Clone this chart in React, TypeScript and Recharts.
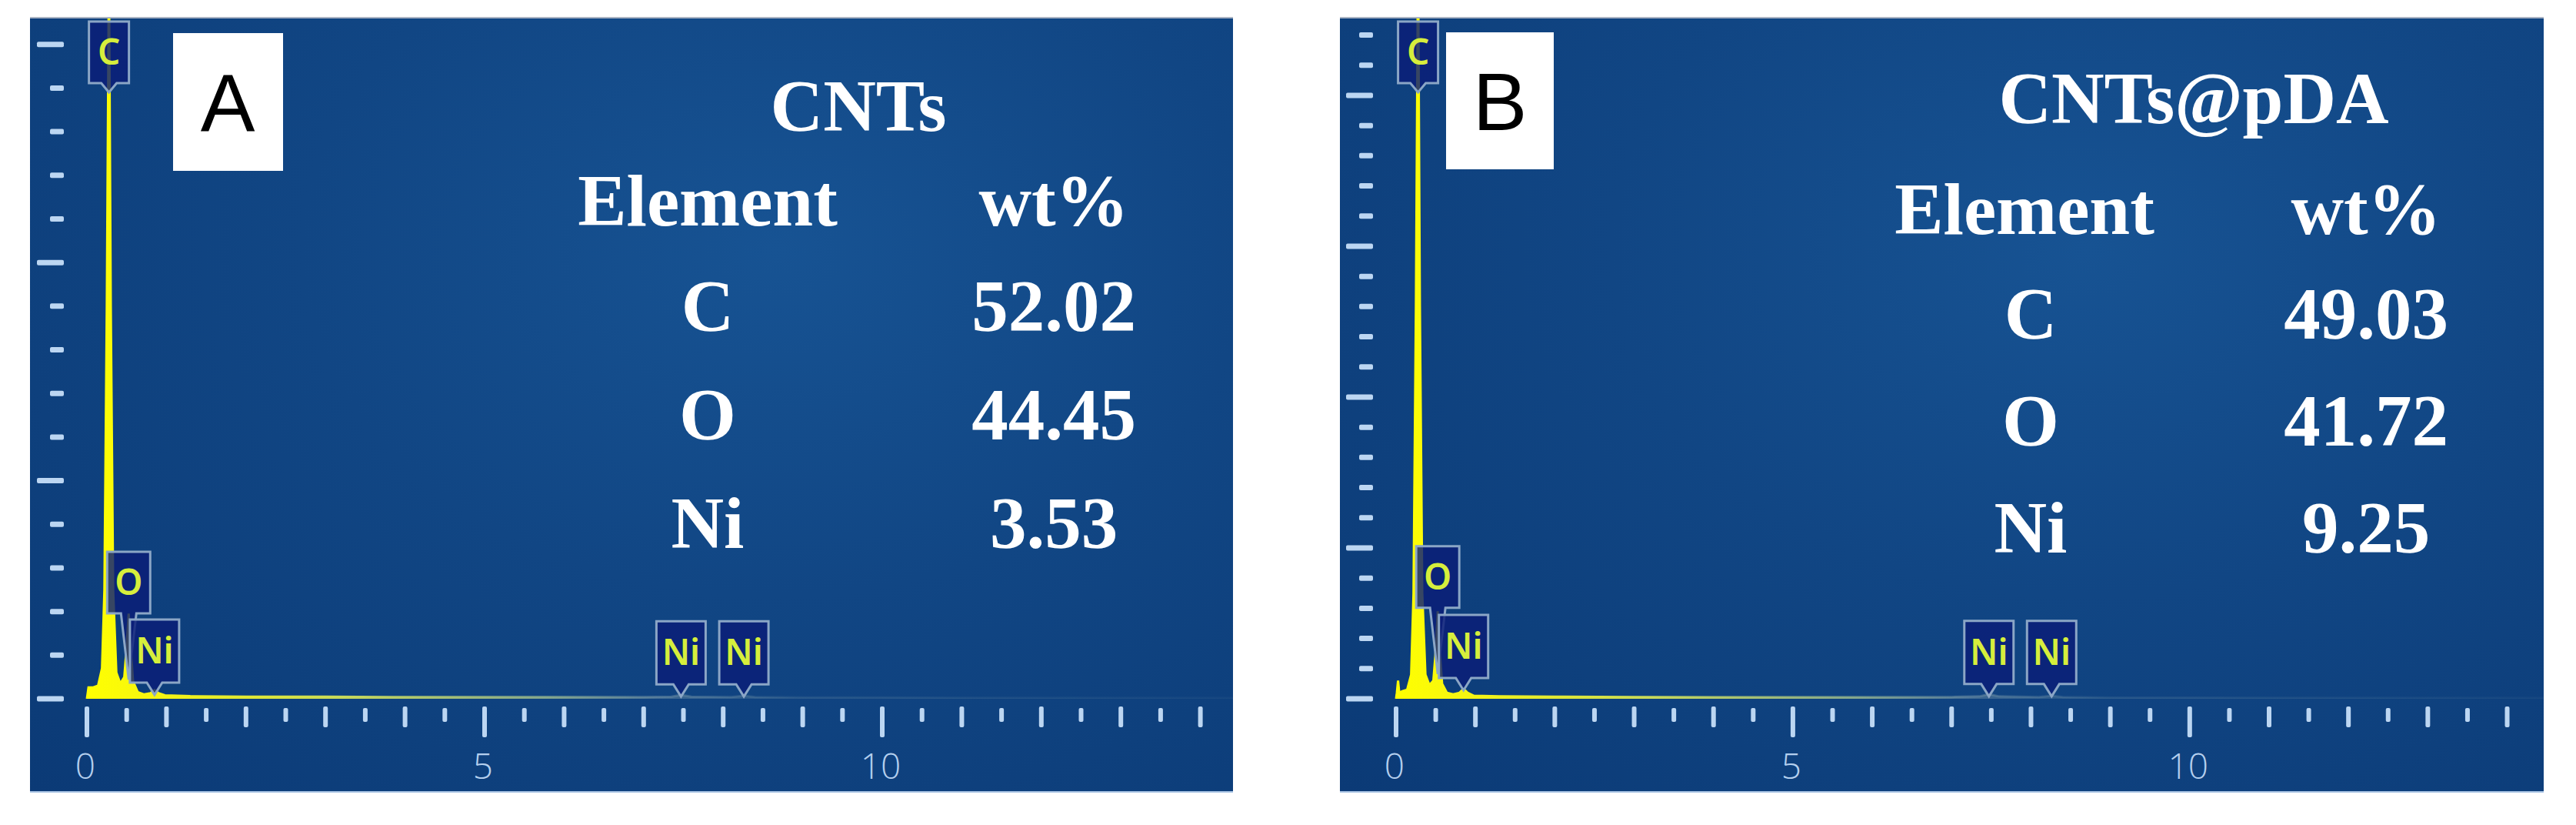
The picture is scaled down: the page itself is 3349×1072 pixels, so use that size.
import { ComposedChart, Area, Scatter, XAxis, YAxis } from 'recharts'

// EDS spectra, energy in keV, counts in y-tick units
const energyA = [0, 0.02, 0.08, 0.14, 0.19, 0.22, 0.25, 0.277, 0.3, 0.33, 0.37, 0.42, 0.47, 0.5, 0.525, 0.55, 0.58, 0.64, 0.72, 0.8, 0.85, 0.9, 0.98, 1.3, 2, 3, 4, 5, 6, 7, 7.35, 7.47, 7.6, 8.1, 8.26, 8.4, 9, 10, 11, 12, 13, 14, 14.41]
const countsA = [0, 0.26, 0.26, 0.3, 0.7, 2.5, 9, 17, 9, 2.5, 0.6, 0.35, 0.5, 1.2, 1.95, 1.2, 0.4, 0.15, 0.1, 0.13, 0.2, 0.13, 0.08, 0.06, 0.05, 0.05, 0.04, 0.04, 0.04, 0.04, 0.05, 0.09, 0.05, 0.04, 0.07, 0.04, 0.03, 0.03, 0.02, 0.02, 0.02, 0.02, 0.02]

const energyB = [0, 0.01, 0.025, 0.04, 0.08, 0.14, 0.19, 0.22, 0.25, 0.277, 0.3, 0.33, 0.37, 0.42, 0.47, 0.5, 0.525, 0.55, 0.58, 0.64, 0.72, 0.8, 0.85, 0.9, 0.98, 1.3, 2, 3, 4, 5, 6, 7, 7.35, 7.47, 7.6, 8.1, 8.26, 8.4, 9, 10, 11, 12, 13, 14, 14.46]
const countsB = [0, 0.2, 0.6, 0.2, 0.25, 0.3, 0.8, 3.5, 13, 25, 13, 3.5, 0.8, 0.45, 0.6, 1.6, 2.9, 1.6, 0.5, 0.2, 0.15, 0.2, 0.33, 0.2, 0.1, 0.08, 0.07, 0.06, 0.05, 0.05, 0.05, 0.06, 0.08, 0.15, 0.08, 0.06, 0.1, 0.06, 0.04, 0.04, 0.03, 0.03, 0.03, 0.03, 0.03]

// peak labels: energy and the count level the marker points at
const peakNames = ['C', 'O', 'Ni', 'Ni', 'Ni']
const peakEnergies = [0.277, 0.525, 0.85, 7.47, 8.26]
const peakTipsA = [13.9, 0.44, 0.09, 0.05, 0.05]
const peakTipsB = [20.1, 0.82, 0.28, 0.08, 0.08]

const xTicks = [0, 0.5, 1, 1.5, 2, 2.5, 3, 3.5, 4, 4.5, 5, 5.5, 6, 6.5, 7, 7.5, 8, 8.5, 9, 9.5, 10, 10.5, 11, 11.5, 12, 12.5, 13, 13.5, 14]
const yTicksA = [0, 1, 2, 3, 4, 5, 6, 7, 8, 9, 10, 11, 12, 13, 14, 15]
const yTicksB = [0, 1, 2, 3, 4, 5, 6, 7, 8, 9, 10, 11, 12, 13, 14, 15, 16, 17, 18, 19, 20, 21, 22]

// composition tables
const tableElements = ['C', 'O', 'Ni']
const wtA = ['52.02', '44.45', '3.53']
const wtB = ['49.03', '41.72', '9.25']

const tickColor = '#bcd6f2'

function XTick(props: any) {
  const { x, y, payload } = props
  const v = payload.value
  const major = v % 5 === 0
  const whole = Number.isInteger(v)
  const top = whole ? y + 10 : y + 12
  const len = major ? 40 : whole ? 27 : 18
  return (
    <g>
      <rect x={x - 3} y={top} width={6} height={len} rx={2} fill={tickColor} />
      {major && (
        <text x={x - 2} y={y + 104} textAnchor="middle" fontSize={46} fontWeight={300}
          fontFamily="'Open Sans', sans-serif" fill="#b4cfee">
          {v}
        </text>
      )}
    </g>
  )
}

function YTick(props: any) {
  const { x, y, payload } = props
  const major = payload.value % 5 === 0
  const start = major ? x - 65 : x - 48
  return <rect x={start} y={y - 3.5} width={x - 30 - start} height={7} rx={2} fill={tickColor} />
}

// box size and pointer length per element marker
const markerStyle: Record<string, { w: number; h: number; p: number }> = {
  C: { w: 52, h: 80, p: 12 },
  O: { w: 56, h: 80, p: 86 },
  Ni: { w: 64, h: 82, p: 16 },
}

function PeakLabel(props: any) {
  const { cx, cy, payload } = props
  const { w, h, p } = markerStyle[payload.name]
  const bottom = cy - p
  const top = bottom - h
  const d = `M${cx - w / 2},${top} L${cx + w / 2},${top} L${cx + w / 2},${bottom} L${cx + 10},${bottom} L${cx},${cy} L${cx - 10},${bottom} L${cx - w / 2},${bottom} Z`
  return (
    <g>
      <path d={d} fill="#0b1d78" fillOpacity={0.82} stroke="#8ba6c6" strokeWidth={3} />
      <text x={cx} y={top + h / 2 + 16} textAnchor="middle" fontSize={46} fontWeight={600}
        fontFamily="'Noto Sans', sans-serif" fill="#d6ee3c">
        {payload.name}
      </text>
    </g>
  )
}

function Spectrum({ id, energy, counts, tips, yTicks, yMax, xMax, width, axisWidth }: any) {
  const data = energy.map((e: number, i: number) => ({ e, v: counts[i] }))
  const labels = peakEnergies.map((e, i) => ({ e, tip: tips[i], name: peakNames[i] }))
  return (
    <ComposedChart width={width} height={1008} data={data} margin={{ top: 0, right: 0, bottom: 0, left: 0 }}>
      <defs>
        <linearGradient id={`line-${id}`} x1="0" y1="0" x2="1" y2="0">
          <stop offset="0%" stopColor="#ffff00" />
          <stop offset="7%" stopColor="#f4f414" />
          <stop offset="22%" stopColor="#c8da5a" />
          <stop offset="40%" stopColor="#8fb08e" stopOpacity={0.8} />
          <stop offset="50%" stopColor="#7898a8" stopOpacity={0.45} />
          <stop offset="62%" stopColor="#7898a8" stopOpacity={0.15} />
          <stop offset="100%" stopColor="#7898a8" stopOpacity={0.05} />
        </linearGradient>
      </defs>
      <XAxis type="number" dataKey="e" domain={[0, xMax]} ticks={xTicks} interval={0}
        height={122} tickSize={0} tickMargin={0} axisLine={false} tick={<XTick />} />
      <YAxis type="number" domain={[0, yMax]} allowDataOverflow ticks={yTicks} interval={0}
        width={axisWidth} tickSize={0} tickMargin={0} axisLine={false} tick={<YTick />} />
      <Area type="linear" dataKey="v" stroke={`url(#line-${id})`} strokeWidth={3}
        fill={`url(#line-${id})`} fillOpacity={1} isAnimationActive={false} dot={false} />
      <Scatter data={labels} dataKey="tip" shape={<PeakLabel />} isAnimationActive={false} />
    </ComposedChart>
  )
}

const panelStyle = (left: number, width: number): React.CSSProperties => ({
  position: 'absolute',
  left,
  top: 22,
  width,
  height: 1008,
  boxSizing: 'border-box',
  background: 'radial-gradient(ellipse at 62% 30%, #175393 0%, #114684 45%, #0b3a76 100%)',
  borderTop: '2px solid #aab4c4',
  borderBottom: '2px solid #a9c4e4',
  overflow: 'hidden',
})

const serif = "'Liberation Serif', 'Times New Roman', serif"

export default function App() {
  return (
    <div style={{ position: 'absolute', left: 0, top: 0, width: 3349, height: 1072, background: '#ffffff' }}>
      <div style={panelStyle(39, 1564)}>
        <div style={{ position: 'absolute', left: 0, top: -2 }}>
          <Spectrum id="a" energy={energyA} counts={countsA} tips={peakTipsA} yTicks={yTicksA}
            yMax={15.63} xMax={14.41} width={1564} axisWidth={74} />
        </div>
      </div>
      <div style={panelStyle(1742, 1565)}>
        <div style={{ position: 'absolute', left: 0, top: -2 }}>
          <Spectrum id="b" energy={energyB} counts={countsB} tips={peakTipsB} yTicks={yTicksB}
            yMax={22.6} xMax={14.46} width={1565} axisWidth={73} />
        </div>
      </div>
      <svg width={3349} height={1072} style={{ position: 'absolute', left: 0, top: 0, pointerEvents: 'none' }}>
        <rect x={225} y={43} width={143} height={179} fill="#ffffff" />
        <text x={296} y={170} textAnchor="middle" fontSize={106} fontFamily="'Liberation Sans', Arial, sans-serif" fill="#000">A</text>
        <rect x={1880} y={42} width={140} height={178} fill="#ffffff" />
        <text x={1950} y={169} textAnchor="middle" fontSize={106} fontFamily="'Liberation Sans', Arial, sans-serif" fill="#000">B</text>

        <g fontFamily={serif} fontWeight="bold" fill="#ffffff" fontSize={95} textAnchor="middle">
          <text x={1116} y={170}>CNTs</text>
          <text x={920} y={293}>Element</text>
          <text x={1370} y={293}>wt%</text>
          {tableElements.map((el, i) => (
            <g key={`a-${el}`}>
              <text x={920} y={430 + i * 141}>{el}</text>
              <text x={1370} y={430 + i * 141}>{wtA[i]}</text>
            </g>
          ))}

          <text x={2852} y={160}>CNTs@pDA</text>
          <text x={2632} y={304}>Element</text>
          <text x={3076} y={304}>wt%</text>
          {tableElements.map((el, i) => (
            <g key={`b-${el}`}>
              <text x={2640} y={440 + i * 139}>{el}</text>
              <text x={3076} y={440 + i * 139}>{wtB[i]}</text>
            </g>
          ))}
        </g>
      </svg>
    </div>
  )
}
